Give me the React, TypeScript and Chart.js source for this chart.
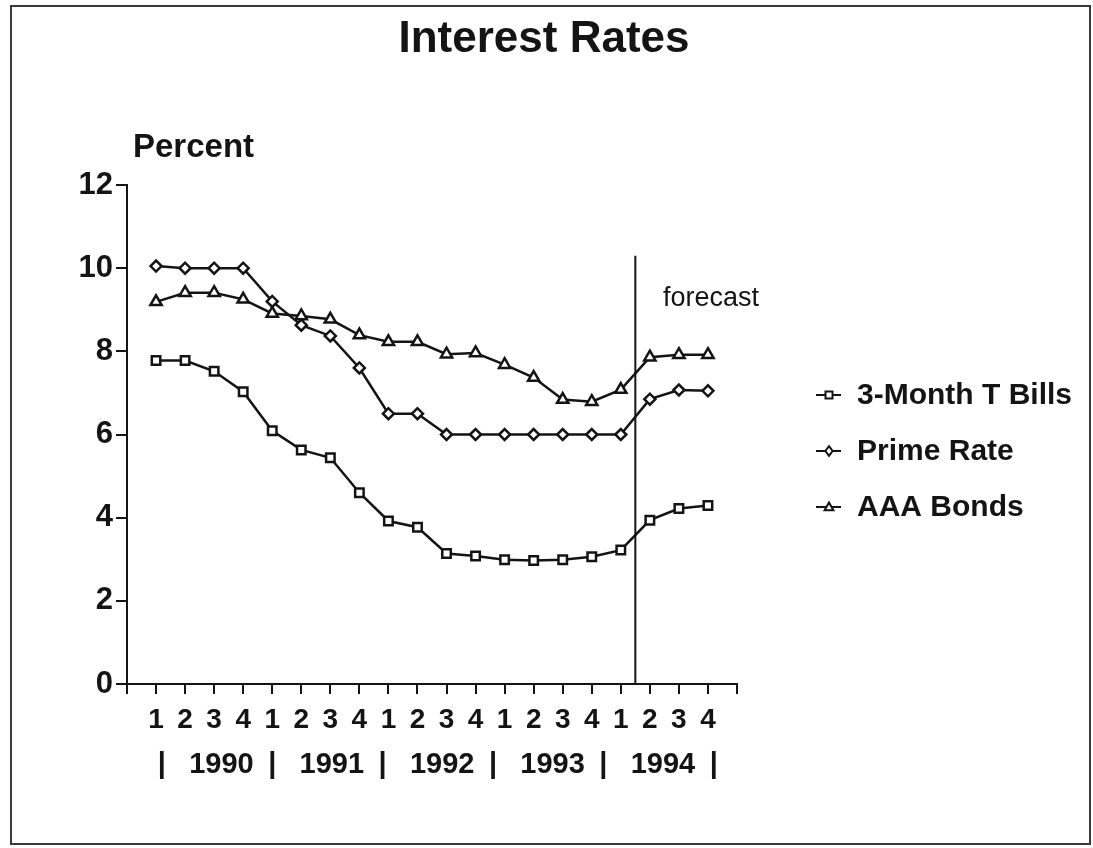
import React, { useEffect, useRef } from 'react';
import { Chart, registerables } from 'chart.js';

Chart.register(...registerables);

// ---- data ----
const quarterLabels = ['1', '2', '3', '4', '1', '2', '3', '4', '1', '2', '3', '4', '1', '2', '3', '4', '1', '2', '3', '4'];
const yearLabels = ['1990', '1991', '1992', '1993', '1994'];
const tBills = [7.78, 7.78, 7.52, 7.03, 6.09, 5.63, 5.44, 4.6, 3.92, 3.77, 3.14, 3.08, 2.99, 2.97, 2.99, 3.06, 3.22, 3.94, 4.22, 4.29];
const primeRate = [10.05, 10.0, 10.0, 10.0, 9.2, 8.63, 8.37, 7.6, 6.5, 6.5, 6.0, 6.0, 6.0, 6.0, 6.0, 6.0, 6.0, 6.85, 7.07, 7.05];
const aaaBonds = [9.19, 9.41, 9.41, 9.25, 8.91, 8.85, 8.77, 8.39, 8.23, 8.23, 7.93, 7.96, 7.68, 7.37, 6.84, 6.79, 7.08, 7.86, 7.92, 7.92];
const seriesNames = ['3-Month T Bills', 'Prime Rate', 'AAA Bonds'];
const forecastStart = 16.5; // between 1994 Q1 and Q2
const forecastLabel = 'forecast';
const chartTitle = 'Interest Rates';
const yAxisTitle = 'Percent';

const FONT = '"Liberation Sans", Arial, Helvetica, sans-serif';
const INK = '#141414';

function drawMarker(ctx: CanvasRenderingContext2D, style: string, x: number, y: number, r: number) {
  ctx.beginPath();
  if (style === 'rect') {
    ctx.rect(x - r, y - r, 2 * r, 2 * r);
  } else if (style === 'rectRot') {
    ctx.moveTo(x, y - r * 1.2);
    ctx.lineTo(x + r * 0.9, y);
    ctx.lineTo(x, y + r * 1.2);
    ctx.lineTo(x - r * 0.9, y);
    ctx.closePath();
  } else {
    ctx.moveTo(x, y - r * 1.1);
    ctx.lineTo(x + r * 1.1, y + r * 0.8);
    ctx.lineTo(x - r * 1.1, y + r * 0.8);
    ctx.closePath();
  }
  ctx.fillStyle = '#fff';
  ctx.fill();
  ctx.stroke();
}

const decorPlugin = {
  id: 'decor',
  afterDraw(chart: any) {
    const ctx: CanvasRenderingContext2D = chart.ctx;
    const xs = chart.scales.x;
    const ys = chart.scales.y;
    ctx.save();
    // frame
    ctx.strokeStyle = '#3a3a3a';
    ctx.lineWidth = 2;
    ctx.strokeRect(11, 6, 1079, 838);

    ctx.fillStyle = INK;
    ctx.textBaseline = 'middle';
    ctx.textAlign = 'center';
    ctx.font = `bold 44px ${FONT}`;
    ctx.fillText(chartTitle, 544, 40);

    ctx.textAlign = 'left';
    ctx.font = `bold 33px ${FONT}`;
    ctx.fillText(yAxisTitle, 133, 148);

    // forecast divider
    const fx = xs.getPixelForValue(forecastStart);
    ctx.strokeStyle = INK;
    ctx.lineWidth = 2;
    ctx.beginPath();
    ctx.moveTo(fx, ys.getPixelForValue(10.3));
    ctx.lineTo(fx, ys.getPixelForValue(0));
    ctx.stroke();
    ctx.font = `27px ${FONT}`;
    ctx.fillText(forecastLabel, xs.getPixelForValue(17.45), ys.getPixelForValue(9.28));

    // year row
    ctx.font = `bold 29px ${FONT}`;
    ctx.textAlign = 'center';
    const rowY = 765;
    for (let k = 0; k <= yearLabels.length; k++) {
      ctx.fillText('|', xs.getPixelForValue(0.2 + k * 3.8), rowY);
    }
    yearLabels.forEach((yl, k) => {
      ctx.fillText(yl, xs.getPixelForValue(0.2 + k * 3.8 + 2.05), rowY);
    });

    // legend
    ctx.textAlign = 'left';
    ctx.font = `bold 30px ${FONT}`;
    chart.data.datasets.forEach((ds: any, i: number) => {
      const ly = 395 + i * 56;
      ctx.strokeStyle = INK;
      ctx.lineWidth = 2;
      ctx.beginPath();
      ctx.moveTo(816, ly);
      ctx.lineTo(841, ly);
      ctx.stroke();
      ctx.lineWidth = 2;
      drawMarker(ctx, ds.pointStyle, 829, ly, ds.pointStyle === 'rect' ? 3.5 : 4);
      ctx.fillStyle = INK;
      ctx.fillText(ds.label, 857, ly + 1);
    });
    ctx.restore();
  },
};

export default function App() {
  const ref = useRef<HTMLCanvasElement | null>(null);
  useEffect(() => {
    document.body.style.margin = '0';
    const canvas = ref.current;
    if (!canvas) return;
    const mk = (arr: number[]) => arr.map((v, i) => ({ x: i, y: v }));
    const common = {
      borderColor: INK,
      borderWidth: 2.5,
      pointBackgroundColor: '#fff',
      pointBorderColor: INK,
      pointBorderWidth: 2.5,
      fill: false,
      tension: 0,
    };
    const chart = new Chart(canvas, {
      type: 'line',
      data: {
        datasets: [
          { ...common, label: seriesNames[0], data: mk(tBills), pointStyle: 'rect', pointRadius: 6 },
          { ...common, label: seriesNames[1], data: mk(primeRate), pointStyle: 'rectRot', pointRadius: 5.5 },
          { ...common, label: seriesNames[2], data: mk(aaaBonds), pointStyle: 'triangle', pointRadius: 6.5 },
        ],
      },
      options: {
        responsive: false,
        animation: false,
        devicePixelRatio: 1,
        layout: { padding: { left: 30, top: 185, right: 356, bottom: 100 } },
        plugins: { legend: { display: false }, title: { display: false }, tooltip: { enabled: false } },
        scales: {
          x: {
            type: 'linear',
            min: -1,
            max: 20,
            afterFit: (s: any) => {
              s.height = 64;
              s.paddingLeft = 0; s.paddingRight = 0; s.paddingTop = 0; s.paddingBottom = 0;
            },
            border: { display: true, color: INK, width: 2 },
            grid: { drawOnChartArea: false, drawTicks: true, tickLength: 10, color: INK, lineWidth: 2 },
            ticks: {
              stepSize: 1,
              autoSkip: false,
              maxRotation: 0,
              padding: 9,
              color: INK,
              font: { family: FONT, size: 28, weight: 'bold' },
              callback: (v: any) => {
                const i = Number(v);
                return i >= 0 && i < quarterLabels.length ? quarterLabels[i] : '';
              },
            },
          },
          y: {
            type: 'linear',
            min: 0,
            max: 12,
            afterFit: (s: any) => {
              s.width = 97;
              s.paddingLeft = 0; s.paddingRight = 0; s.paddingTop = 0; s.paddingBottom = 0;
            },
            border: { display: true, color: INK, width: 2 },
            grid: { drawOnChartArea: false, drawTicks: true, tickLength: 11, color: INK, lineWidth: 2 },
            ticks: {
              stepSize: 2,
              padding: 3,
              color: INK,
              font: { family: FONT, size: 31, weight: 'bold' },
            },
          },
        },
      },
      plugins: [decorPlugin],
    } as any);
    return () => chart.destroy();
  }, []);
  return (
    <div style={{ width: 1093, height: 848, background: '#fff' }}>
      <canvas ref={ref} width={1093} height={848} style={{ display: 'block' }} />
    </div>
  );
}
